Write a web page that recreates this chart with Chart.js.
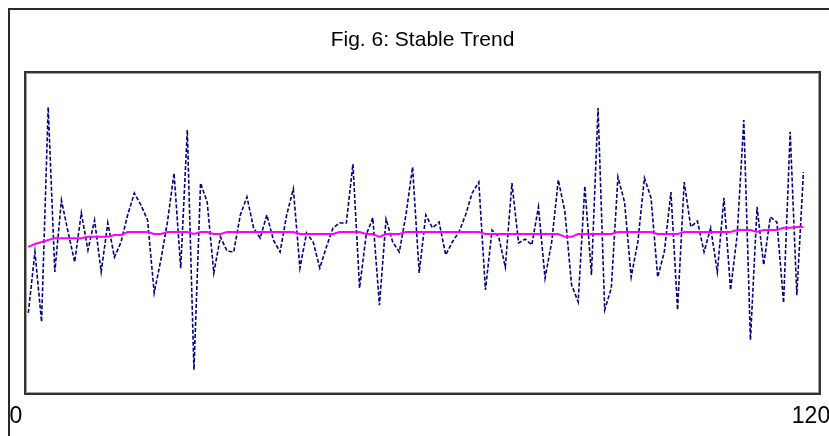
<!DOCTYPE html>
<html>
<head>
<meta charset="utf-8">
<script src="https://cdn.jsdelivr.net/npm/chart.js@4/dist/chart.umd.min.js"></script>
<style>
  html, body { margin: 0; padding: 0; background: #ffffff; }
  #wrap { width: 829px; height: 436px; position: relative; }
</style>
</head>
<body>
<div id="wrap"><canvas id="c" width="829" height="436"></canvas></div>
<script>
// ---- data (y scale 0..100, no visible y axis) ----
const titleText = 'Fig. 6: Stable Trend';
const xTickValues = [0, 120];
const xTickLabels = ['0', '120'];

const actual = [
  25.2, 44.1, 22.4, 89.1, 37.9, 60.2, 50.3, 41.0, 56.2, 44.7,
  54.0, 37.9, 53.1, 42.5, 47.2, 55.6, 62.4, 58.7, 54.0, 31.4,
  41.6, 53.4, 68.6, 39.1, 82.0, 7.5, 65.5, 59.6, 37.6, 48.8,
  44.4, 44.1, 55.6, 61.2, 51.6, 48.4, 55.6, 47.8, 44.1, 55.6,
  63.7, 39.1, 50.0, 47.2, 39.1, 45.7, 51.6, 53.1, 53.1, 71.4,
  32.9, 49.4, 54.7, 27.6, 54.3, 47.2, 44.1, 55.6, 70.5, 37.6,
  55.6, 51.6, 53.4, 43.2, 47.2, 50.3, 55.6, 62.4, 65.8, 32.3,
  50.9, 48.8, 39.4, 65.5, 46.9, 48.1, 46.3, 58.1, 36.0, 47.2,
  66.5, 56.5, 33.9, 28.6, 64.6, 37.0, 88.8, 26.1, 32.9, 67.4,
  59.6, 36.3, 47.2, 67.1, 60.9, 36.3, 44.1, 62.7, 26.1, 65.8,
  51.9, 53.7, 44.1, 51.6, 37.9, 60.9, 32.3, 49.4, 85.1, 16.8,
  58.1, 40.1, 55.0, 53.4, 28.3, 81.4, 30.7, 68.9
];

const trend = [
  45.7, 46.6, 47.2, 47.8, 48.4, 48.4, 48.4, 48.4, 48.4, 48.8,
  48.8, 48.8, 48.8, 49.4, 49.4, 50.3, 50.3, 50.3, 50.3, 49.7,
  49.7, 50.3, 50.3, 50.3, 50.3, 49.7, 50.3, 50.3, 49.7, 49.7,
  50.3, 50.3, 50.3, 50.3, 50.3, 50.3, 50.3, 50.3, 50.3, 50.3,
  50.3, 49.7, 49.7, 49.7, 49.7, 49.7, 49.7, 50.3, 50.3, 50.3,
  50.3, 49.7, 49.7, 48.8, 49.7, 49.7, 49.7, 50.3, 50.3, 50.3,
  50.3, 50.3, 50.3, 50.3, 50.3, 50.3, 50.3, 50.3, 50.3, 49.7,
  49.7, 49.7, 49.7, 49.7, 49.7, 49.7, 49.7, 49.7, 49.7, 49.7,
  49.7, 48.8, 48.8, 49.7, 49.7, 49.7, 49.7, 49.7, 49.7, 50.3,
  50.3, 50.3, 50.3, 50.3, 50.3, 49.7, 49.7, 49.7, 49.7, 50.3,
  50.3, 50.3, 50.3, 50.3, 50.3, 50.3, 50.3, 50.9, 50.9, 50.9,
  50.3, 50.9, 50.9, 50.9, 51.6, 51.6, 51.9, 51.9
];

// each observation is plotted at the middle of its period
const toPoints = arr => arr.map((v, i) => ({ x: i + 0.5, y: v }));

// frame and plot-box borders
const framePlugin = {
  id: 'frame',
  beforeDraw(chart) {
    const ctx = chart.ctx;
    ctx.save();
    ctx.fillStyle = '#ffffff';
    ctx.fillRect(0, 0, chart.width, chart.height);
    ctx.restore();
  },
  afterDraw(chart) {
    const ctx = chart.ctx;
    const a = chart.chartArea;
    ctx.save();
    // outer frame (left and top visible)
    ctx.strokeStyle = '#2a2a2a';
    ctx.lineWidth = 2;
    ctx.beginPath();
    ctx.moveTo(9, chart.height);
    ctx.lineTo(9, 9);
    ctx.lineTo(chart.width, 9);
    ctx.stroke();
    // plot box
    ctx.strokeStyle = '#333333';
    ctx.lineWidth = 2;
    ctx.strokeRect(a.left, a.top, a.right - a.left, a.bottom - a.top);
    ctx.strokeStyle = '#a0a0a0';
    ctx.lineWidth = 1;
    ctx.strokeRect(a.left + 1.5, a.top + 1.5, a.right - a.left - 3, a.bottom - a.top - 3);
    ctx.restore();
  }
};

new Chart(document.getElementById('c'), {
  type: 'line',
  data: {
    datasets: [
      {
        label: 'Series',
        data: toPoints(actual),
        borderColor: '#000080',
        borderWidth: 1.6,
        borderDash: [4, 2],
        pointRadius: 0,
        tension: 0,
        fill: false,
        order: 2
      },
      {
        label: 'Trend',
        data: toPoints(trend),
        borderColor: '#ff00ff',
        borderWidth: 2,
        pointRadius: 0,
        tension: 0,
        fill: false,
        order: 1
      }
    ]
  },
  options: {
    responsive: false,
    animation: false,
    devicePixelRatio: 1,
    layout: { padding: { left: 25, right: 9, top: 0, bottom: 0 } },
    plugins: {
      legend: { display: false },
      tooltip: { enabled: false },
      title: {
        display: true,
        text: titleText,
        color: '#000000',
        font: { family: "'Liberation Sans', Arial, sans-serif", size: 21, weight: 'normal', lineHeight: 1.2 },
        padding: { top: 27.4, bottom: 19.4 }
      }
    },
    scales: {
      x: {
        type: 'linear',
        min: xTickValues[0],
        max: xTickValues[xTickValues.length - 1],
        grid: { display: false, drawTicks: false },
        border: { display: false },
        afterBuildTicks: s => { s.ticks = xTickValues.map(v => ({ value: v })); },
        afterFit: s => { s.paddingLeft = 0; s.paddingRight = 0; s.height = 42; },
        ticks: {
          autoSkip: false,
          maxRotation: 0,
          color: '#000000',
          padding: 11,
          labelOffset: -9,
          font: { family: "'Liberation Sans', Arial, sans-serif", size: 23, lineHeight: 1 },
          callback: v => xTickLabels[xTickValues.indexOf(v)]
        }
      },
      y: {
        display: false,
        min: 0,
        max: 100
      }
    }
  },
  plugins: [framePlugin]
});
</script>
</body>
</html>
